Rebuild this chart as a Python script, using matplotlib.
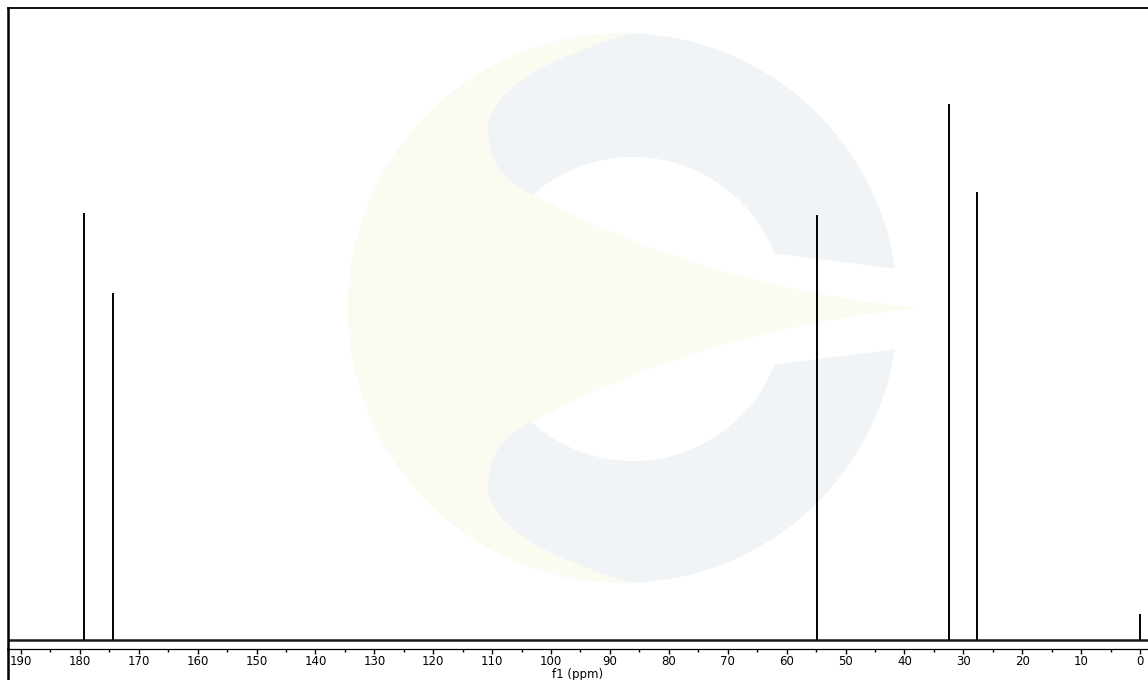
import numpy as np
import matplotlib
matplotlib.use("Agg")
import matplotlib.pyplot as plt
from matplotlib.patches import Ellipse, Polygon, PathPatch
from matplotlib.path import Path
from matplotlib.lines import Line2D

# peak positions (ppm) and heights (arbitrary intensity, baseline = 0)
shifts = [179.3, 174.4, 54.9, 32.5, 27.7, 0.0]
heights = [427, 347, 425, 536, 448, 26]
xticks = list(range(190, -1, -10))

W, H = 1148, 680
fig = plt.figure(figsize=(W / 100, H / 100), dpi=100)
ax = fig.add_axes([8 / W, 31 / H, 1 - 8 / W, (649 - 8) / H])
ax.set_facecolor("none")

# faint watermark logo behind the spectrum (pixel coords, y from top)
def fx(x):
    return x / W

def fy(y):
    return 1 - y / H

cx, cy, r = 623, 308, 275
fig.add_artist(Ellipse((fx(cx), fy(cy)), 2 * r / W, 2 * r / H,
                       transform=fig.transFigure, fc="#f1f4f6", ec="none", zorder=-5))
fig.add_artist(Ellipse((fx(633), fy(309)), 304 / W, 304 / H,
                       transform=fig.transFigure, fc="white", ec="none", zorder=-4))
gap = [(770, 253), (905, 270), (905, 348), (770, 365)]
fig.add_artist(Polygon([(fx(a), fy(b)) for a, b in gap], closed=True,
                       transform=fig.transFigure, fc="white", ec="none", zorder=-4))

ang = np.linspace(np.deg2rad(88), np.deg2rad(272), 80)
arc = [(cx + r * np.cos(t), cy - r * np.sin(t)) for t in ang]
verts = arc[:]
codes = [Path.MOVETO] + [Path.LINETO] * (len(arc) - 1)
# lower edge of the crescent and wedge, then mirrored upper edge
curve = [(500, 545), (488, 492),
         (486, 440), (533, 422),
         (700, 331), (918, 308),
         (700, 285), (533, 194),
         (486, 176), (488, 124),
         (500, 71), (arc[0][0], arc[0][1])]
verts += curve
codes += [Path.CURVE3] * len(curve)
verts = [(fx(a), fy(b)) for a, b in verts]
fig.add_artist(PathPatch(Path(verts, codes), transform=fig.transFigure,
                         fc="#fbfbf1", ec="none", zorder=-3))

# spectrum: baseline and peaks
ax.plot([193, -2], [0, 0], color="#1a1a1a", lw=1.8, solid_capstyle="butt")
ax.vlines(shifts, 0, heights, color="black", lw=1.4)

ax.set_xlim(192.2, -1.36)
ax.set_ylim(-9, 632)
ax.set_xticks(xticks)
ax.set_xticks(np.arange(185, 0, -10), minor=True)
ax.set_yticks([])
ax.tick_params(axis="x", which="major", direction="out", length=3.5, width=1, labelsize=8.5, pad=0.8)
ax.tick_params(axis="x", which="minor", direction="out", length=2.2, width=1)
ax.set_xlabel("f1 (ppm)", fontsize=8.5, labelpad=0)

ax.spines["right"].set_visible(False)
ax.spines["left"].set_linewidth(1.8)
ax.spines["top"].set_linewidth(1.3)
ax.spines["bottom"].set_linewidth(0.9)

# left border continues down to the bottom edge
fig.add_artist(Line2D([8 / W, 8 / W], [0, 31 / H], color="black", lw=1.8,
                      transform=fig.transFigure))

fig.savefig("out.png", dpi=100)
